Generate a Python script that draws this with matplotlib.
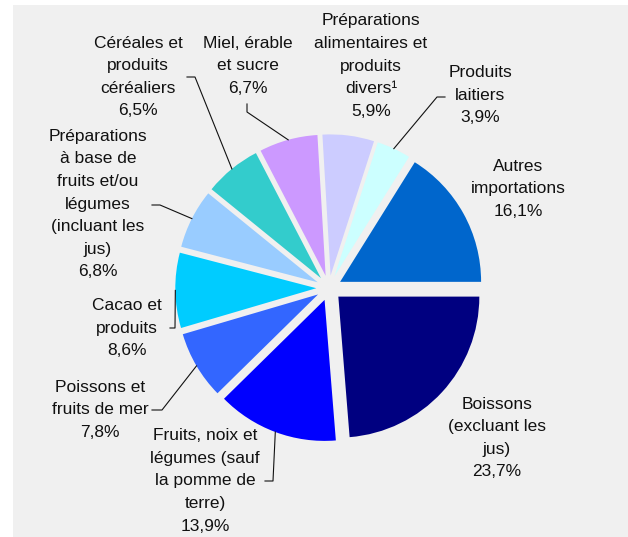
import matplotlib
matplotlib.use("Agg")
import matplotlib.pyplot as plt
import numpy as np

plt.rcParams['font.family'] = ['Liberation Sans', 'DejaVu Sans']

# Data (counterclockwise from 3 o'clock)
labels = ['Autres\nimportations', 'Produits\nlaitiers',
          'Préparations\nalimentaires et\nproduits\ndivers¹',
          'Miel, érable\net sucre', 'Céréales et\nproduits\ncéréaliers',
          'Préparations\nà base de\nfruits et/ou\nlégumes\n(incluant les\njus)',
          'Cacao et\nproduits', 'Poissons et\nfruits de mer',
          'Fruits, noix et\nlégumes (sauf\nla pomme de\nterre)',
          'Boissons\n(excluant les\njus)']
shares = [16.1, 3.9, 5.9, 6.7, 6.5, 6.8, 8.6, 7.8, 13.9, 23.7]
colors = ['#0066CC', '#CCFFFF', '#CCCCFF', '#CC99FF', '#33CCCC',
          '#99CCFF', '#00CCFF', '#3366FF', '#0000FF', '#000080']

W, H = 628, 537
CX, CY, R = 329, 288, 141   # pie centre / radius in pixels


def px(x, y):
    # pixel position -> data units (pie radius = 1)
    return (x - CX) / R, (CY - y) / R


fig = plt.figure(figsize=(W / 100, H / 100), dpi=100)
fig.patch.set_facecolor('white')
bg = fig.add_axes([13 / W, 0, 1 - 13 / W, 1 - 5 / H])
bg.set_facecolor('#F0F0F0')
bg.set_xticks([]); bg.set_yticks([])
for s in bg.spines.values():
    s.set_visible(False)

ax = fig.add_axes([0, 0, 1, 1])
ax.set_facecolor('none')

wedges, _ = ax.pie(shares, colors=colors, startangle=0, counterclock=True,
                   explode=[0.09] * len(shares), radius=1,
                   wedgeprops=dict(linewidth=0))
ax.set_aspect('auto')
ax.set_xlim(px(0, 0)[0], px(W, 0)[0])
ax.set_ylim(px(0, H)[1], px(0, 0)[1])
ax.axis('off')

# label text centres (pixels)
text_pos = [(518, 189), (480, 95), (371, 66), (248, 66), (138, 77),
            (98, 204), (127, 328), (100, 410), (205, 481), (497, 438)]
# leader lines: (stub end, elbow) in pixels, None = no line
leaders = [None, ((445, 97), (437, 97)), None, ((247, 104), (247, 112)),
           ((187, 77), (195, 77)), ((152, 205), (160, 205)),
           ((170, 328), (175, 328)), ((152, 410), (162, 410)),
           ((265, 481), (273, 481)), None]

for w, lab, val, pos, ld in zip(wedges, labels, shares, text_pos, leaders):
    txt = lab + '\n' + f'{val:.1f}'.replace('.', ',') + '%'
    tx, ty = px(*pos)
    ax.text(tx, ty, txt, ha='center', va='center', fontsize=12.5,
            color='#111111', linespacing=1.63)
    if ld is not None:
        mid = np.deg2rad((w.theta1 + w.theta2) / 2)
        ax_x = w.center[0] + w.r * np.cos(mid)
        ax_y = w.center[1] + w.r * np.sin(mid)
        (x0, y0), (x1, y1) = px(*ld[0]), px(*ld[1])
        ax.plot([x0, x1, ax_x], [y0, y1, ax_y], color='#111111', lw=0.8)

fig.savefig('out.png', dpi=100)
